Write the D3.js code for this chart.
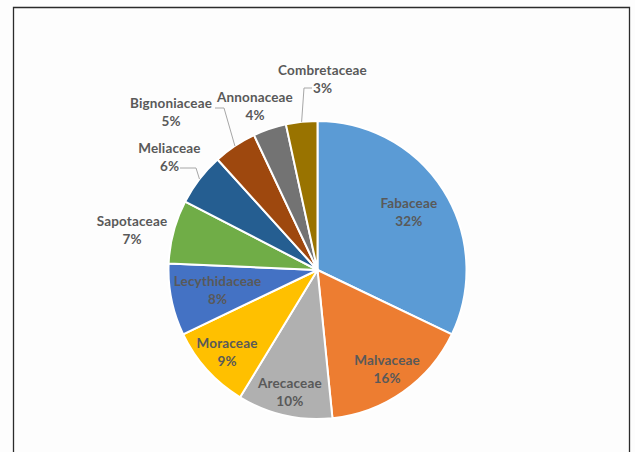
<!DOCTYPE html>
<html>
<head>
<meta charset="utf-8">
<script src="https://cdn.jsdelivr.net/npm/d3@7"></script>
<style>
  html, body { margin: 0; padding: 0; background: #fdfdfd; }
  svg { display: block; }
  text { font-family: Lato, "Open Sans", sans-serif; font-weight: 700; font-size: 13.5px; fill: #595959; letter-spacing: 0.15px; }
</style>
</head>
<body>
<svg id="chart" width="635" height="452"></svg>
<script>
// ---- data ----
const families = ["Fabaceae", "Malvaceae", "Arecaceae", "Moraceae", "Lecythidaceae",
                  "Sapotaceae", "Meliaceae", "Bignoniaceae", "Annonaceae", "Combretaceae"];
const shares = [32.1, 16.3, 10.3, 9.2, 7.8, 6.9, 5.7, 4.7, 3.6, 3.4];
const colors = ["#5B9BD5", "#ED7D31", "#B0B0B0", "#FFC000", "#4472C4",
                "#70AD47", "#255E91", "#9E480E", "#737373", "#997300"];

// ---- layout (label placement, not data) ----
const cx = 317.5, cy = 270, R = 149;
// inside labels: radius of label centre along slice mid-angle
const insideRadius = {Fabaceae: 108, Malvaceae: 121, Arecaceae: 125, Moraceae: 122, Lecythidaceae: 102};
// outside labels: centre of the first line, relative to pie centre
const outsidePos = {
  Sapotaceae: [-185.5, -49], Meliaceae: [-148, -122], Bignoniaceae: [-146.5, -167],
  Annonaceae: [-62.5, -173], Combretaceae: [5, -200]
};
// leader lines: elbow and end points relative to pie centre
const leaders = {
  Combretaceae: [[-13.5, -182], [-5.5, -182]],
  Bignoniaceae: [[-93.5, -162], [-102.5, -162]],
  Meliaceae: [[-121.5, -102], [-137.5, -102]]
};

const svg = d3.select("#chart");
svg.append("rect").attr("width", 635).attr("height", 452).attr("fill", "#fdfdfd");

// frame
svg.append("path")
  .attr("d", "M13.5,460 V7.5 H629.5 V460")
  .attr("fill", "none").attr("stroke", "#2b2b2b").attr("stroke-width", 1.3);

const pie = d3.pie().sort(null).value(d => d.v);
const data = families.map((f, i) => ({name: f, v: shares[i], color: colors[i]}));
const arcs = pie(data);
const arc = d3.arc().innerRadius(0).outerRadius(R);

const g = svg.append("g").attr("transform", `translate(${cx},${cy})`);

g.selectAll("path.slice").data(arcs).join("path")
  .attr("class", "slice")
  .attr("d", arc)
  .attr("fill", d => d.data.color)
  .attr("stroke", "#ffffff").attr("stroke-width", 2).attr("stroke-linejoin", "round");

// leader lines
arcs.forEach(a => {
  const L = leaders[a.data.name];
  if (!L) return;
  const mid = (a.startAngle + a.endAngle) / 2;
  const p0 = [R * Math.sin(mid), -R * Math.cos(mid)];
  g.append("path")
    .attr("d", d3.line()([p0, L[0], L[1]]))
    .attr("fill", "none").attr("stroke", "#a6a6a6").attr("stroke-width", 1);
});

// labels
const lineGap = 18;
arcs.forEach(a => {
  const name = a.data.name;
  let x, y;
  if (insideRadius[name] !== undefined) {
    const mid = (a.startAngle + a.endAngle) / 2;
    const r = insideRadius[name];
    x = r * Math.sin(mid);
    y = -r * Math.cos(mid) - lineGap / 2;
  } else {
    [x, y] = outsidePos[name];
  }
  const t = g.append("text").attr("text-anchor", "middle");
  t.append("tspan").attr("x", x).attr("y", y + 4.8).text(name);
  t.append("tspan").attr("x", x).attr("y", y + lineGap + 4.8).text(Math.round(a.data.v) + "%");
});
</script>
</body>
</html>
